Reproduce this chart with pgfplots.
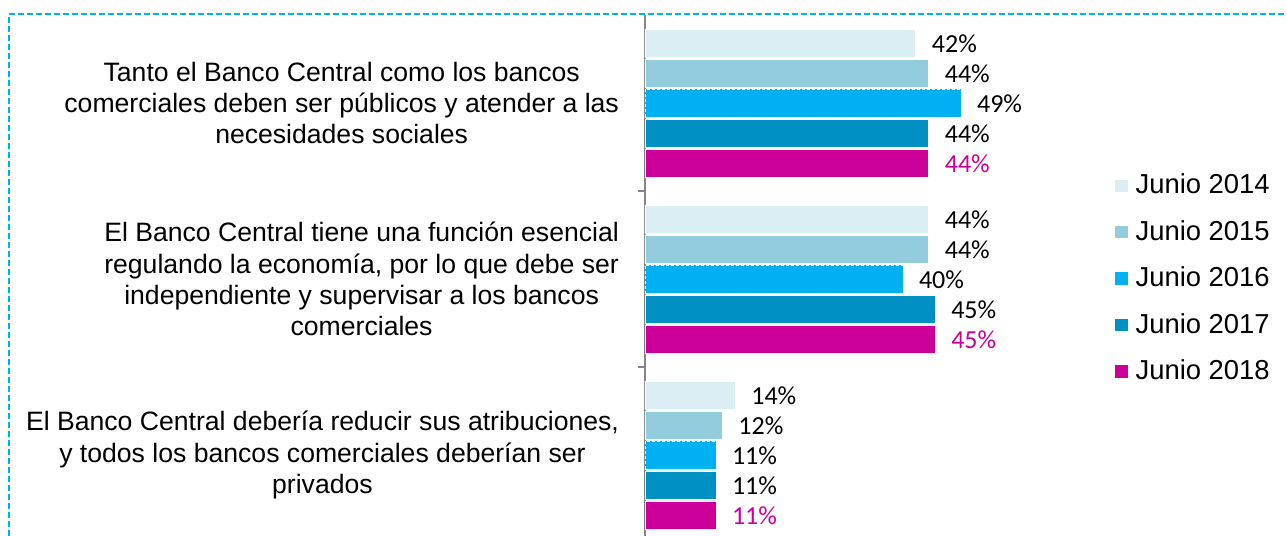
\documentclass[border=0pt]{standalone}
\usepackage{pgfplots}
\pgfplotsset{compat=1.18}
\usepackage{fontspec}
\setmainfont{Liberation Sans}
\newfontfamily\numfont{Carlito}
\definecolor{c14}{HTML}{DAEEF3}
\definecolor{c15}{HTML}{93CDDD}
\definecolor{c16}{HTML}{00B0F0}
\definecolor{c17}{HTML}{0090C3}
\definecolor{c18}{HTML}{CC0099}
\definecolor{axgray}{HTML}{868686}
\begin{document}
\begin{tikzpicture}
\useasboundingbox (-322.5pt,3.5pt) rectangle (321pt,271.5pt);
\draw[c16, line width=0.9pt, dash pattern=on 3pt off 1.5pt] (-318pt,-10pt) rectangle (330pt,264.5pt);
\begin{axis}[
  at={(0,0)}, anchor=south west,
  scale only axis, width=193.5pt, height=264pt,
  xbar, bar width=14pt,
  xmin=0, xmax=60, ymin=-0.5, ymax=2.5,
  axis x line=none,
  axis y line*=left,
  y axis line style={axgray, line width=0.8pt, -},
  ytick={0.5,1.5}, yticklabels={},
  tick align=outside, major tick length=3.5pt,
  ytick style={axgray, line width=0.8pt},
  extra y ticks={0,1,2},
  extra y tick labels={{El Banco Central debería reducir sus atribuciones,\\y todos los bancos comerciales deberían ser\\privados},
    {El Banco Central tiene una función esencial\\regulando la economía, por lo que debe ser\\independiente y supervisar a los bancos\\comerciales},
    {Tanto el Banco Central como los bancos\\comerciales deben ser públicos y atender a las\\necesidades sociales}},
  extra y tick style={major tick style={draw=none}},
  yticklabel style={font=\fontsize{13.3}{15.6}\selectfont, align=center, text=black, xshift=-6pt},
  point meta=x,
  /pgf/number format/assume math mode=true,
  nodes near coords={\pgfmathprintnumber{\pgfplotspointmeta}\%},
  every node near coord/.append style={font=\numfont\fontsize{13}{13}\selectfont, anchor=west, xshift=4.5pt, yshift=-0.5pt, text=black},
  legend image code/.code={\draw[#1] (0pt,-3.3pt) rectangle (6.6pt,3.3pt); \path (8.2pt,0pt);},
  legend style={at={(1.212,0.707)}, anchor=north west, draw=none, fill=none,
    font=\fontsize{13.7}{15}\selectfont, row sep=7.8pt, inner sep=0pt,
    nodes={inner sep=2pt}},
  legend cell align=left,
]
\addplot[fill=c14, draw=white, bar shift=30pt] coordinates {(42,2) (44,1) (14,0)};
\addplot[fill=c15, draw=white, bar shift=15pt] coordinates {(44,2) (44,1) (12,0)};
\addplot[fill=c16, draw=white, dash pattern=on 1.5pt off 1pt, bar shift=0pt] coordinates {(49,2) (40,1) (11,0)};
\addplot[fill=c17, draw=white, bar shift=-15pt] coordinates {(44,2) (45,1) (11,0)};
\addplot[fill=c18, draw=white, bar shift=-30pt, every node near coord/.append style={text=c18}] coordinates {(44,2) (45,1) (11,0)};
\legend{Junio 2014, Junio 2015, Junio 2016, Junio 2017, Junio 2018}
\end{axis}
\end{tikzpicture}
\end{document}
